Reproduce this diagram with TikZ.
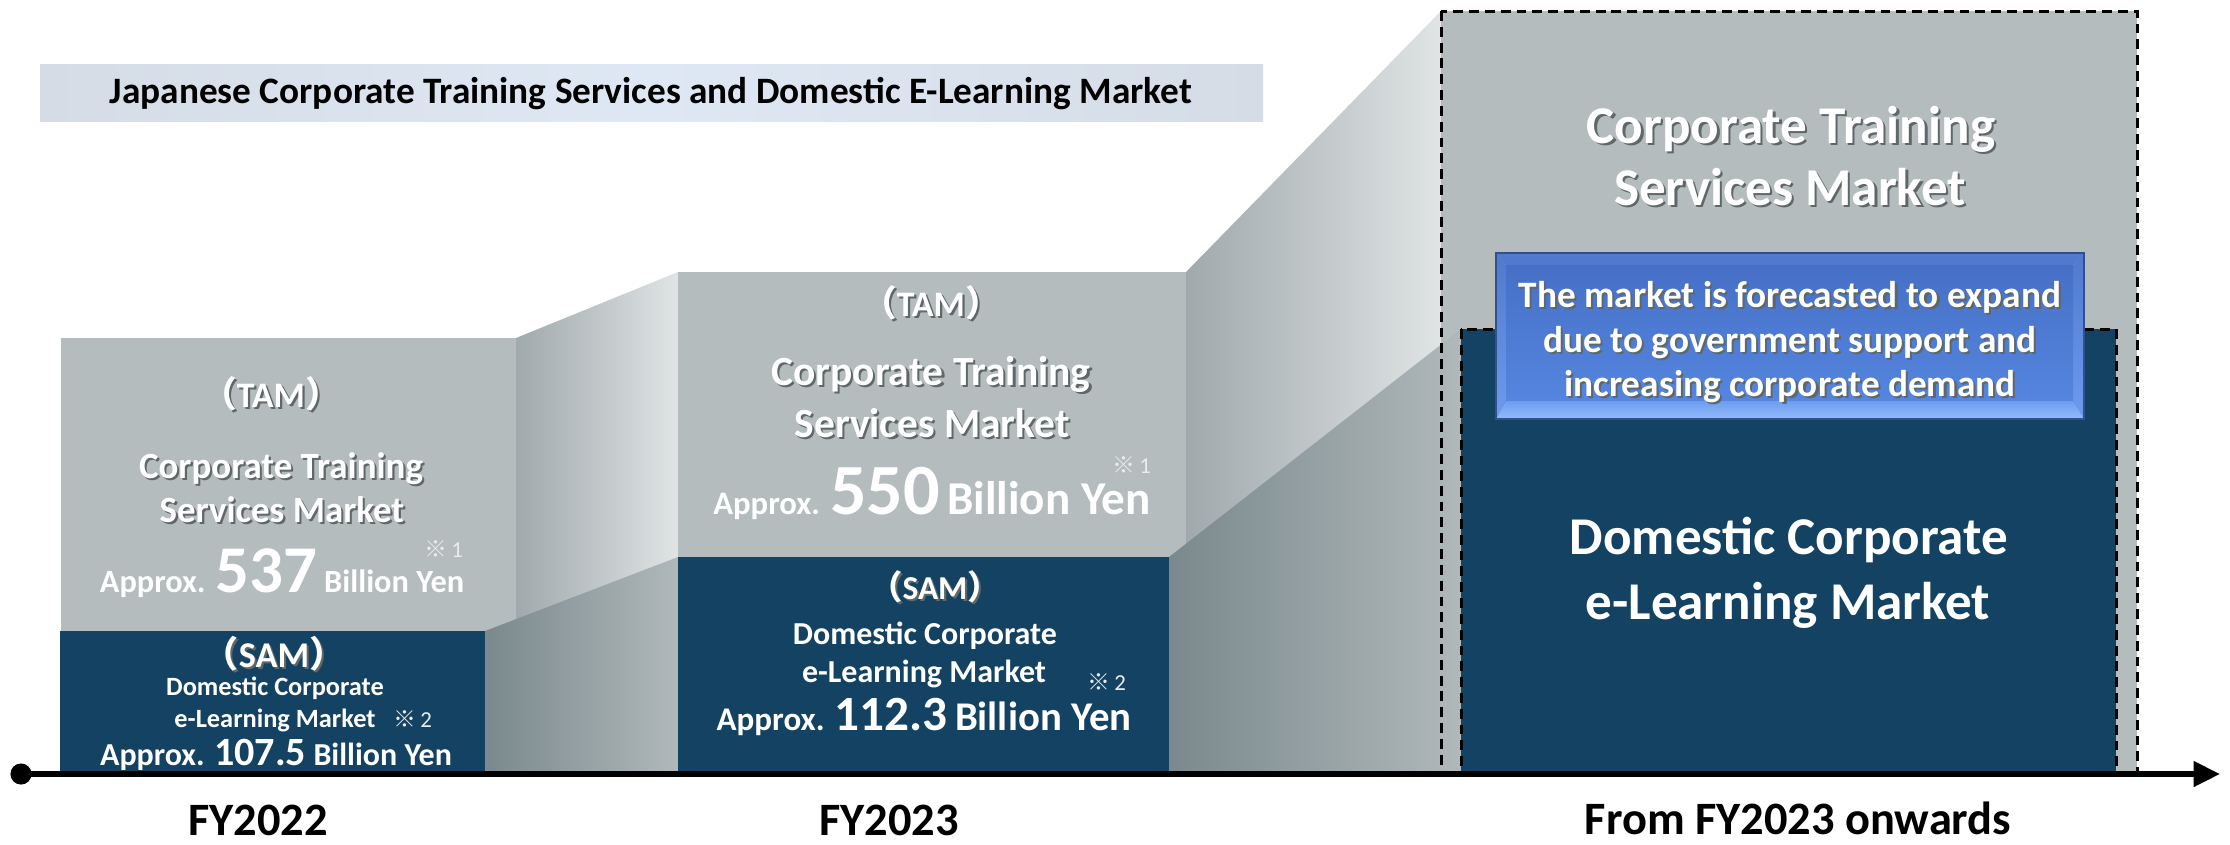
\documentclass[tikz,border=0pt]{standalone}
\usepackage{fontspec}
\setmainfont{Carlito}
\newfontfamily\cjkfont{Noto Sans CJK JP}
\usetikzlibrary{arrows.meta}

\definecolor{tamgray}{HTML}{B4BCBE}
\definecolor{samnavy}{HTML}{144263}
\definecolor{shadowgray}{HTML}{5F6769}
\definecolor{titleedge}{HTML}{D5DCE6}
\definecolor{titlemid}{HTML}{DEE8F4}
\definecolor{bandlight}{HTML}{E0E4E5}
\definecolor{banddark}{HTML}{A0A9AC}
\definecolor{lowdark}{HTML}{7A898D}
\definecolor{lowlight}{HTML}{B0B8BA}
\definecolor{facetop}{HTML}{4670C6}
\definecolor{facebot}{HTML}{5585DF}
\definecolor{bevtop}{HTML}{5179CD}
\definecolor{bevside}{HTML}{6C9BEF}
\definecolor{bevlow}{HTML}{93BBFA}
\definecolor{blueedge}{HTML}{30508F}

\newcommand\fsz[1]{\fontsize{#1}{#1}\selectfont}
\newcommand\shd[1]{\rlap{\kern0.6pt\raisebox{-0.6pt}{\color{shadowgray}#1}}#1}
\newcommand\kome[1]{{\cjkfont ※}\,#1}
\newcommand\paren[1]{{\cjkfont （}#1{\cjkfont ）}}

\begin{document}
\begin{tikzpicture}[x=0.01cm, y=-0.01cm,
  txt/.style={text=white, font=\bfseries, anchor=base, inner sep=0pt},
  yearlbl/.style={text=black, font=\bfseries\fsz{13.2}, anchor=base, inner sep=0pt},
  note/.style={text=white!92!black, font=\mdseries\fsz{6.5}, anchor=base west, inner sep=0pt},
  boxedge/.style={dash pattern=on 2.8pt off 1.7pt, line width=0.85pt},
  axisline/.style={line width=1.6pt, -{Triangle[length=7.5pt, width=7pt]}}
  ]
  \fill[white] (0,0) rectangle (2230,844);
  \useasboundingbox (0,0) rectangle (2230,844);

  % title bar
  \shade[left color=titleedge, right color=titleedge, middle color=titlemid] (40,64) rectangle (1263,121);
  \node[txt, text=black] (title) at (651,103)
    {\fsz{10.6}Japanese Corporate Training Services and Domestic E-Learning Market};

  % slanted bands between the years
  \shade[left color=banddark, right color=bandlight] (516,338) -- (678,272) -- (678,774) -- (516,774) -- cycle;
  \shade[left color=banddark, right color=bandlight] (1186,272) -- (1441,11) -- (1441,774) -- (1186,774) -- cycle;

  % TAM blocks
  \fill[tamgray] (61,338) rectangle (516,774);
  \fill[tamgray] (678,272) rectangle (1186,774);
  \fill[tamgray] (1441,11) rectangle (2137,774);

  \shade[left color=lowdark, right color=lowlight] (485,631) -- (678,557) -- (678,774) -- (485,774) -- cycle;
  \shade[left color=lowdark, right color=lowlight] (1169,557) -- (1461,329) -- (1461,774) -- (1169,774) -- cycle;

  % SAM blocks
  \fill[samnavy] (60,631) rectangle (485,774);
  \fill[samnavy] (678,557) rectangle (1169,774);
  \fill[samnavy] (1461,329) rectangle (2116,774);

  \draw[boxedge] (1441,11) rectangle (2137,774);
  \draw[boxedge] (1461,329) rectangle (2116,774);

  % forecast box, bevelled
  \fill[bevtop] (1496,253) -- (2084,253) -- (2073,265) -- (1506,265) -- cycle;
  \shade[top color=bevtop, bottom color=bevside] (1496,253) -- (1506,265) -- (1506,400) -- (1496,419) -- cycle;
  \shade[top color=bevtop, bottom color=bevside] (2084,253) -- (2073,265) -- (2073,400) -- (2084,419) -- cycle;
  \shade[top color=bevside, bottom color=bevlow] (1496,419) -- (1506,400) -- (2073,400) -- (2084,419) -- cycle;
  \shade[top color=facetop, bottom color=facebot] (1506,265) rectangle (2073,400);
  \draw[blueedge, line width=0.6pt] (1496,253) rectangle (2084,419);

  % FY2022
  \node[txt] (tamA-tag) at (271,407) {\fsz{10.2}\shd{\paren{TAM}}};
  \node[txt] (tamA-l1) at (281,478) {\fsz{10.5}\shd{Corporate Training}};
  \node[txt] (tamA-l2) at (282,522) {\fsz{10.5}\shd{Services Market}};
  \node[note] (tamA-note) at (424,557) {\kome{1}};
  \node[txt] (tamA-val) at (282,592) {\fsz{9.2}Approx. {\fsz{19}537} Billion Yen};
  \node[txt] (samA-tag) at (274,667) {\fsz{10.3}\shd{\paren{SAM}}};
  \node[txt] (samA-l1) at (275,695) {\fsz{7.5}Domestic Corporate};
  \node[txt] (samA-l2) at (275,727) {\fsz{7.5}e-Learning Market};
  \node[note] (samA-note) at (393,727) {\kome{2}};
  \node[txt] (samA-val) at (276,765) {\fsz{9.1}Approx. {\fsz{11.4}107.5} Billion Yen};

  % FY2023
  \node[txt] (tamB-tag) at (931,316) {\fsz{10.2}\shd{\paren{TAM}}};
  \node[txt] (tamB-l1) at (931,385) {\fsz{11.8}\shd{Corporate Training}};
  \node[txt] (tamB-l2) at (932,437) {\fsz{11.8}\shd{Services Market}};
  \node[note] (tamB-note) at (1112,473) {\kome{1}};
  \node[txt] (tamB-val) at (932,514) {\fsz{9.3}Approx. {\fsz{20.5}550} {\fsz{13.4}Billion Yen}};
  \node[txt] (samB-tag) at (935,599) {\fsz{9.5}\shd{\paren{SAM}}};
  \node[txt] (samB-l1) at (925,644) {\fsz{9.1}Domestic Corporate};
  \node[txt] (samB-l2) at (924,682) {\fsz{9.1}e-Learning Market};
  \node[note] (samB-note) at (1087,690) {\kome{2}};
  \node[txt] (samB-val) at (924,730) {\fsz{9.4}Approx. {\fsz{14}112.3} {\fsz{11.6}Billion Yen}};

  % from FY2023 onwards
  \node[txt] (tamC-l1) at (1791,143) {\fsz{15.1}\shd{Corporate Training}};
  \node[txt] (tamC-l2) at (1790,205) {\fsz{15.1}\shd{Services Market}};
  \node[txt] (fc-l1) at (1790,307) {\fsz{10.6}\shd{The market is forecasted to expand}};
  \node[txt] (fc-l2) at (1790,352) {\fsz{10.6}\shd{due to government support and}};
  \node[txt] (fc-l3) at (1790,396) {\fsz{10.6}\shd{increasing corporate demand}};
  \node[txt] (samC-l1) at (1789,554) {\fsz{15.1}Domestic Corporate};
  \node[txt] (samC-l2) at (1788,619) {\fsz{15.1}e-Learning Market};

  % time axis
  \node[circle, fill=black, inner sep=0pt, minimum size=6pt] (origin) at (21,774) {};
  \coordinate (axisend) at (2220,774);
  \draw[axisline] (origin.center) -- (axisend);

  \node[yearlbl] (fyA) at (258,835) {FY2022};
  \node[yearlbl] (fyB) at (889,835) {FY2023};
  \node[yearlbl] (fyC) at (1798,834) {From FY2023 onwards};
\end{tikzpicture}
\end{document}
